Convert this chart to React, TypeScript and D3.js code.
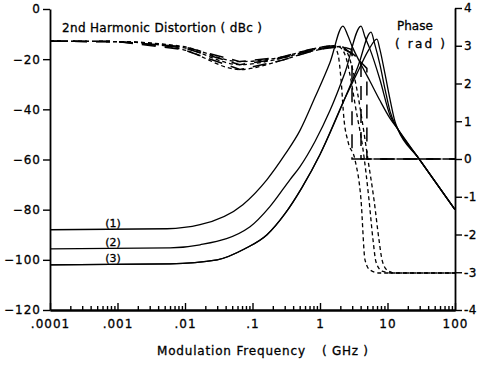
import { useEffect, useRef } from "react"
import * as d3 from "d3"

type Pt = [number, number]

// 2nd harmonic distortion (dBc) vs modulation frequency (GHz), solid curves
const dist1: Pt[] = [[1e-4, -88], [0.0054, -87.6], [0.0167, -86], [0.072, -78], [0.164, -68], [0.303, -58], [0.506, -48.4], [0.843, -35.2], [1.41, -21.2], [2.19, -6.8], [2.6, -10.8], [2.98, -14.8], [3.9, -21.2], [5.5, -28.8], [7.7, -36.4], [10.9, -43.6], [14.3, -48], [28.3, -59.2], [100, -80]]
const dist2: Pt[] = [[1e-4, -95.6], [0.006, -95.2], [0.0167, -94], [0.092, -86.8], [0.181, -78.8], [0.36, -68], [0.506, -62.8], [0.843, -52.8], [1.41, -40.4], [2.34, -25.4], [4.05, -6.8], [4.64, -11.2], [5.5, -16], [7.7, -28], [10.9, -42.4], [14.3, -48], [28.3, -59.2], [100, -80]]
const dist3: Pt[] = [[1e-4, -102], [0.006, -101.6], [0.03, -100], [0.077, -95.6], [0.164, -90], [0.303, -81.6], [0.54, -71.2], [1.0, -58], [2.34, -35.6], [3.66, -22.8], [5.7, -9.2], [6.47, -14], [7.7, -22], [9.2, -32], [10.9, -40.8], [14.3, -48], [28.3, -59.2], [100, -80]]
const dist4: Pt[] = [[1e-4, -102], [0.006, -101.6], [0.03, -100], [0.077, -95.6], [0.164, -90], [0.303, -81.6], [0.54, -71.2], [1.0, -58], [2.34, -35.6], [3.66, -24.8], [5.14, -16.8], [6.98, -12], [7.7, -16], [9.2, -26], [10.9, -36], [12.9, -44.8], [14.3, -48], [28.3, -59.2], [100, -80]]

// phase (rad), low-frequency part of each curve
const phaseHead1: Pt[] = [[1e-4, 3.12], [0.001, 3.11], [0.0093, 2.98], [0.065, 2.58], [0.255, 2.69], [0.71, 2.9], [1.19, 2.98]]
const phaseHead2: Pt[] = [[1e-4, 3.12], [0.001, 3.11], [0.0093, 2.95], [0.065, 2.5], [0.255, 2.66], [0.71, 2.87], [1.19, 2.95]]
const phaseHead3: Pt[] = [[1e-4, 3.12], [0.001, 3.11], [0.0093, 2.9], [0.065, 2.37], [0.255, 2.6], [0.71, 2.84], [1.19, 2.93]]
// short dash: smooth fall to -pi
const phaseFall1: Pt[] = [[1.57, 3.0], [1.85, 2.77], [2.05, 2.1], [2.27, 1.04], [2.6, 0.46], [3.3, -0.02], [4.05, -1.08], [4.64, -2.67], [5.5, -2.94], [7.7, -3.02], [100, -3.02]]
const phaseFall2: Pt[] = [[1.85, 2.98], [2.34, 2.77], [2.78, 2.23], [3.41, 1.31], [4.34, 0.25], [5.32, -1.08], [6.1, -2.14], [6.76, -2.73], [8.3, -2.97], [11.7, -3.02], [100, -3.02]]
const phaseFall3: Pt[] = [[2.12, 2.98], [2.78, 2.63], [3.41, 1.97], [4.19, 1.04], [5.14, -0.02], [6.31, -1.08], [7.48, -2.14], [8.3, -2.67], [9.84, -2.94], [12.9, -3.02], [100, -3.02]]
// long dash: step to 0
const phaseStep1: Pt[] = [[1.57, 3.0], [2.4, 2.95], [2.98, 2.9], [2.98, 0], [100, 0]]
const phaseStep2: Pt[] = [[1.85, 2.98], [3.0, 2.8], [4.05, 2.6], [4.05, 0], [100, 0]]
const phaseStep3: Pt[] = [[2.12, 2.98], [3.4, 2.7], [4.95, 2.4], [4.95, 0], [100, 0]]

const decades = [1e-4, 1e-3, 1e-2, 1e-1, 1, 10, 100]
const xTickLabels = [".0001", ".001", ".01", ".1", "1", "10", "100"]
const dbTicks = [0, -20, -40, -60, -80, -100, -120]
const phaseTicks = [4, 3, 2, 1, 0, -1, -2, -3, -4]
const curveLabels = ["(1)", "(2)", "(3)"]
const curveLabelLevels = [-88, -95.6, -102]

const FONT = "DejaVu Sans"
const fmtSigned = (d: d3.NumberValue) => (Number(d) < 0 ? "\u2212" + Math.abs(Number(d)) : String(d))

export default function App() {
  const svgRef = useRef<SVGSVGElement>(null)

  useEffect(() => {
    if (!svgRef.current) return
    const width = 481
    const height = 367
    const svg = d3.select(svgRef.current).attr("width", width).attr("height", height)
    svg.selectAll("*").remove()

    const x = d3.scaleLog().domain([1e-4, 100]).range([50, 455])
    const yL = d3.scaleLinear().domain([-120, 0]).range([310, 9])
    const yR = d3.scaleLinear().domain([-4, 4]).range([310, 8])

    const styleAxis = (g: d3.Selection<SVGGElement, unknown, null, undefined>, spacing = 1) => {
      g.attr("font-family", FONT).attr("font-size", 12)
      g.select(".domain").attr("stroke", "#000").attr("stroke-width", 1.8)
      g.selectAll(".tick line").attr("stroke", "#000").attr("stroke-width", 1.4)
      g.selectAll(".tick text").attr("fill", "#000").attr("stroke", "#000").attr("stroke-width", 0.3)
        .attr("letter-spacing", spacing)
    }

    const minor = decades.slice(0, -1).flatMap((d) => [2, 3, 4, 5, 6, 7, 8, 9].map((m) => d * m))
    svg.append("g")
      .attr("transform", "translate(0,310)")
      .call(d3.axisBottom(x).tickValues(minor).tickSize(-4).tickSizeOuter(0).tickFormat(() => ""))
      .call(styleAxis)
    svg.append("g")
      .attr("transform", "translate(0,310)")
      .call(d3.axisBottom(x).tickValues(decades).tickSize(-7).tickSizeOuter(0).tickPadding(9)
        .tickFormat((_d, i) => xTickLabels[i]))
      .call(styleAxis)

    svg.append("g")
      .attr("transform", "translate(50,0)")
      .call(d3.axisLeft(yL).tickValues(dbTicks).tickSize(7).tickSizeOuter(0).tickPadding(2).tickFormat(fmtSigned))
      .call(styleAxis)

    svg.append("g")
      .attr("transform", "translate(455,0)")
      .call(d3.axisRight(yR).tickValues(phaseTicks).tickSize(7).tickSizeOuter(0).tickPadding(2)
        .tickFormat((d) => String(d)))
      .call((g) => styleAxis(g, 0.5))

    const lineDb = d3.line<Pt>().x((d) => x(d[0])).y((d) => yL(d[1])).curve(d3.curveMonotoneX)
    const linePh = d3.line<Pt>().x((d) => x(d[0])).y((d) => yR(d[1])).curve(d3.curveMonotoneX)
    const linePhStep = d3.line<Pt>().x((d) => x(d[0])).y((d) => yR(d[1]))

    const plot = svg.append("g").attr("fill", "none").attr("stroke", "#000")

    ;[dist1, dist2, dist3, dist4].forEach((s) => {
      plot.append("path").attr("d", lineDb(s)).attr("stroke-width", 1.3)
    })

    const heads = [phaseHead1, phaseHead2, phaseHead3]
    ;[phaseFall1, phaseFall2, phaseFall3].forEach((s, i) => {
      plot.append("path").attr("d", linePh(heads[i].concat(s)))
        .attr("stroke-width", 1.3).attr("stroke-dasharray", "4,3")
    })
    ;[phaseStep1, phaseStep2, phaseStep3].forEach((s, i) => {
      plot.append("path").attr("d", linePhStep(heads[i].concat(s)))
        .attr("stroke-width", 1.5).attr("stroke-dasharray", "14,9")
    })

    const txt = svg.append("g").attr("font-family", FONT).attr("font-size", 12).attr("fill", "#000")
      .attr("stroke", "#000").attr("stroke-width", 0.3)
    txt.append("text").attr("x", 62).attr("y", 32).attr("textLength", 200).attr("lengthAdjust", "spacing")
      .text("2nd Harmonic Distortion ( dBc )")
    txt.append("text").attr("x", 397).attr("y", 30).text("Phase")
    txt.append("text").attr("x", 395).attr("y", 48).attr("textLength", 50).attr("lengthAdjust", "spacing")
      .style("white-space", "pre").text("( rad )")
    txt.append("text").attr("x", 157).attr("y", 355).attr("textLength", 148).attr("lengthAdjust", "spacing")
      .text("Modulation Frequency")
    txt.append("text").attr("x", 322).attr("y", 355).attr("textLength", 46).attr("lengthAdjust", "spacing")
      .style("white-space", "pre").text("( GHz )")

    curveLabels.forEach((t, i) => {
      txt.append("text").attr("x", x(0.00086)).attr("y", yL(curveLabelLevels[i]) - 3)
        .attr("text-anchor", "middle").attr("font-size", 11).text(t)
    })
  }, [])

  return <svg ref={svgRef} style={{ position: "absolute", left: 0, top: 0 }} />
}
